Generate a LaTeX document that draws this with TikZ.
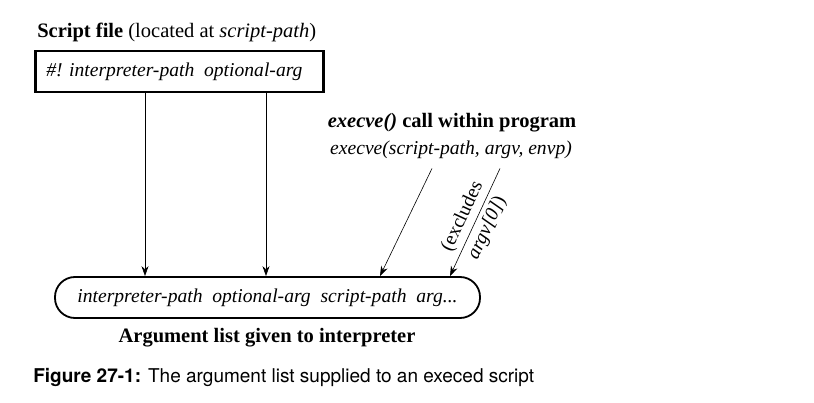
\documentclass[tikz,border=0pt]{standalone}
\usepackage{fontspec}
\setmainfont{Liberation Serif}
\newfontfamily\capfont{TeX Gyre Heros}
\usetikzlibrary{arrows,arrows.meta,positioning}

\begin{document}
\begin{tikzpicture}[x=1pt,y=-1pt,->,>={Stealth[length=10pt,width=7pt]},semithick]
\tikzstyle{every node}=[font=\fontsize{20.5}{24}\selectfont,inner sep=0pt]
\tikzstyle{itline}=[font=\fontsize{19.6}{24}\selectfont\itshape]
\tikzstyle{scriptbox}=[draw,line width=2.6pt,minimum width=288pt,minimum height=41pt,-]
\tikzstyle{arglist}=[draw,line width=1.8pt,rounded corners=20pt,minimum width=425pt,minimum height=41pt,-]
\useasboundingbox (0,0) rectangle (814,403);
% script file
\node[anchor=base west] (title) at (37,38) {\textbf{Script file} (located at \textit{script-path})};
\node[scriptbox] (script) at (179.5,71.5) {};
\node[itline,anchor=base west] (shebang) at (46,77) {\#! interpreter-path\ \ optional-arg};
% argument list
\node[arglist] (args) at (267.5,297.5) {};
\node[itline] (argtext) at (267.5,297.5) {interpreter-path\ \ optional-arg\ \ script-path\ \ arg...};
\node[anchor=base] (argtitle) at (267,343) {\textbf{Argument list given to interpreter}};
% execve
\node[anchor=base] (call) at (452,128) {\textbf{\textit{execve()} call within program}};
\node[itline,anchor=base] (callargs) at (451,155) {execve(script-path, argv, envp)};
\path (script.south -| 145,0) edge (args.north -| 145,0)
      (script.south -| 266,0) edge (args.north -| 266,0)
      (callargs.south -| 432,0) ++(0,9) edge (args.north -| 380,0)
      (callargs.south -| 500,0) ++(0,9) edge node[sloped,align=center,font=\fontsize{19.6}{27}\selectfont]{(excludes\\\textit{argv[0]})} (args.north -| 450,0);
% caption
\node[anchor=base west,font=\capfont\fontsize{19}{22}\selectfont] (caption) at (33,382) {\textbf{Figure 27-1:} The argument list supplied to an execed script};
\end{tikzpicture}
\end{document}
